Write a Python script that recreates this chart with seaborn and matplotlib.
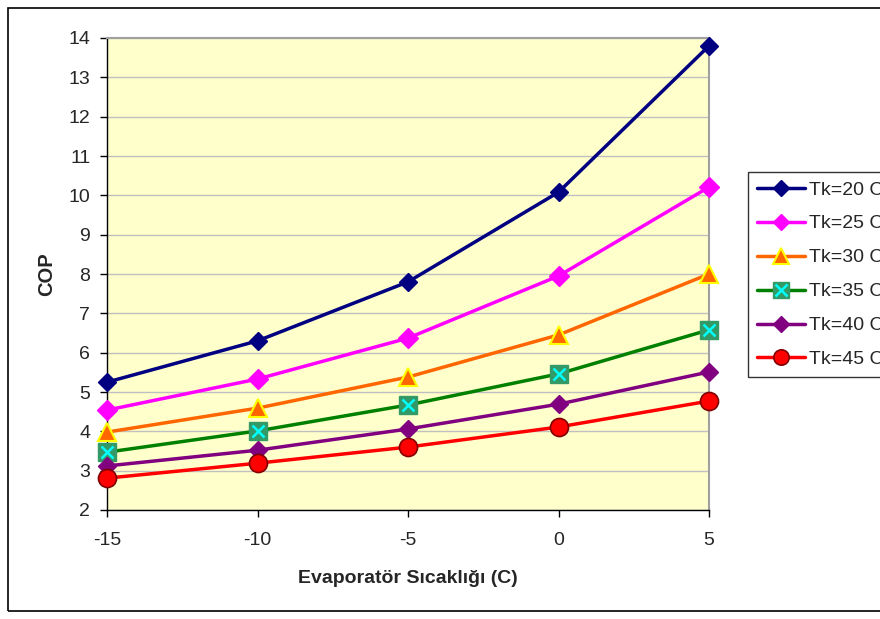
import matplotlib
matplotlib.use("Agg")
import matplotlib.pyplot as plt
import seaborn as sns
import pandas as pd
from matplotlib.lines import Line2D
from matplotlib.patches import Rectangle

evap = [-15, -10, -5, 0, 5]
tk20 = [5.25, 6.30, 7.80, 10.08, 13.80]
tk25 = [4.54, 5.33, 6.37, 7.95, 10.21]
tk30 = [3.98, 4.59, 5.38, 6.45, 8.00]
tk35 = [3.47, 4.01, 4.67, 5.46, 6.58]
tk40 = [3.12, 3.52, 4.06, 4.69, 5.51]
tk45 = [2.81, 3.19, 3.60, 4.11, 4.77]
labels = ["Tk=20 C", "Tk=25 C", "Tk=30 C", "Tk=35 C", "Tk=40 C", "Tk=45 C"]
series = [tk20, tk25, tk30, tk35, tk40, tk45]
yticks = list(range(2, 15))

sns.set_theme(style="white")
plt.rcParams['font.family'] = ['Liberation Sans', 'DejaVu Sans']
plt.rcParams['axes.unicode_minus'] = False

fig = plt.figure(figsize=(8.8, 6.19), dpi=100)
ax = fig.add_axes([107/880, 1-510/619, (709-107)/880, (510-38)/619])
ax.set_facecolor("#FFFFCC")

styles = [
    dict(color="#000080", marker="D", ms=9, mfc="#000080", mec="#000080", mew=1),
    dict(color="#FF00FF", marker="D", ms=10, mfc="#FF00FF", mec="#FF00FF", mew=1),
    dict(color="#FF6600", marker="^", ms=13, mfc="#FF6600", mec="#FFFF00", mew=1.5),
    dict(color="#008000", marker="s", ms=13, mfc="#339966", mec="#339966", mew=1),
    dict(color="#800080", marker="D", ms=9, mfc="#800080", mec="#800080", mew=1),
    dict(color="#FF0000", marker="o", ms=13, mfc="#FF0000", mec="#800000", mew=1.2),
]

for lab, ys, st in zip(labels, series, styles):
    df = pd.DataFrame({"x": evap, "y": ys})
    sns.lineplot(data=df, x="x", y="y", ax=ax, lw=2.5, color=st["color"],
                 marker=st["marker"], markersize=st["ms"], markerfacecolor=st["mfc"],
                 markeredgecolor=st["mec"], markeredgewidth=st["mew"], clip_on=False,
                 zorder=3)
    if lab == "Tk=35 C":
        sns.lineplot(data=df, x="x", y="y", ax=ax, lw=0, marker="x", markersize=9,
                     markeredgecolor="#00FFFF", markeredgewidth=1.8, color="#00FFFF",
                     clip_on=False, zorder=4)

ax.set_xlim(-15, 5)
ax.set_ylim(2, 14)
ax.set_xticks(evap)
ax.set_yticks(yticks)
ax.grid(axis="y", color="#C0C0C0", lw=1)
ax.grid(axis="x", visible=False)
ax.tick_params(axis="both", labelsize=14, direction="out", length=5, width=1,
               color="#000000", left=True, bottom=True)
ax.tick_params(axis="x", pad=11)
ax.tick_params(axis="y", pad=7)
for s in ["left", "bottom"]:
    ax.spines[s].set_color("#000000")
    ax.spines[s].set_linewidth(1)
for s in ["top", "right"]:
    ax.spines[s].set_color("#A0A0A0")
    ax.spines[s].set_linewidth(1.5)
ax.set_xlabel("Evaporatör Sıcaklığı (C)", fontsize=14, fontweight="bold", labelpad=15)
ax.set_ylabel("COP", fontsize=14.5, fontweight="bold", labelpad=9)

handles = []
for lab, st in zip(labels, styles):
    h = Line2D([], [], color=st["color"], lw=2.5, marker=st["marker"],
               markersize=st["ms"] * 0.85, markerfacecolor=st["mfc"],
               markeredgecolor=st["mec"], markeredgewidth=st["mew"])
    if lab == "Tk=35 C":
        hx = Line2D([], [], lw=0, marker="x", markersize=8,
                    markeredgecolor="#00FFFF", markeredgewidth=1.8)
        h = (h, hx)
    handles.append(h)

leg = fig.legend(handles, labels, loc="upper left",
                 bbox_to_anchor=(748/880, 1-172/619), fontsize=14,
                 frameon=True, fancybox=False, edgecolor="#000000",
                 handlelength=2.45, labelspacing=0.84, borderpad=0.46,
                 handletextpad=0.22, borderaxespad=0)
leg.get_frame().set_linewidth(1)

fig.patches.append(Rectangle((8/880, 8/619), 1.0, 1 - 16/619,
                             transform=fig.transFigure, fill=False,
                             edgecolor="#000000", lw=1.2))

fig.savefig("out.png", dpi=100)
